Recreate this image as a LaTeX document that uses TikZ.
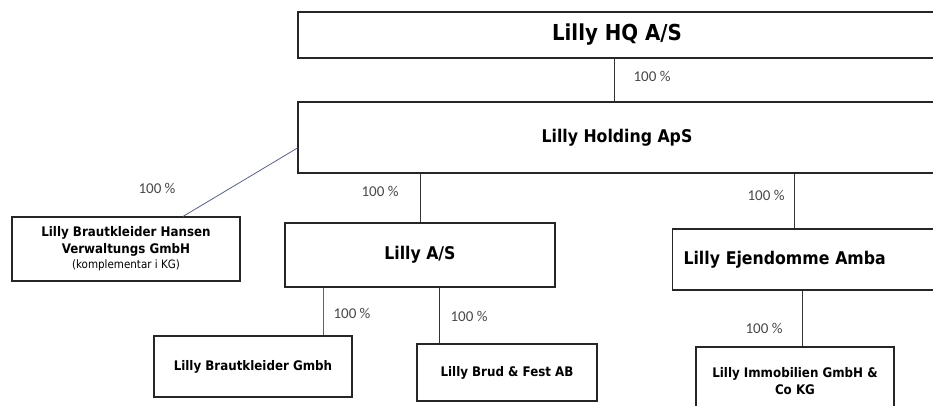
\documentclass[tikz,border=0pt]{standalone}
\usepackage{fontspec}
\setmainfont{DejaVu Sans Condensed}
\newfontfamily\labfont{Carlito}
\definecolor{lineblue}{RGB}{88,98,128}
\begin{document}
\begin{tikzpicture}[x=1pt,y=-1pt,
  box/.style={draw=black!85, line width=1.1pt, rectangle, inner sep=0pt, align=center, font=\bfseries},
  big/.style={font=\fontsize{22}{24}\selectfont\bfseries},
  mid/.style={font=\fontsize{17.5}{20}\selectfont\bfseries},
  small/.style={font=\fontsize{13.2}{17}\selectfont\bfseries},
  pct/.style={font=\labfont\fontsize{15}{16}\selectfont, text=black!72, inner sep=0pt},
  conn/.style={draw=black!80, line width=0.8pt},
  bconn/.style={draw=lineblue, line width=0.8pt}]
\useasboundingbox (0,0) rectangle (933,405);
\clip (0,0) rectangle (933,405);
% boxes
\node[box, big, minimum width=638pt, minimum height=46pt] (hq) at (617,35) {Lilly HQ A/S};
\node[box, mid, minimum width=638pt, minimum height=71pt] (hold) at (617,137.5) {Lilly Holding ApS};
\node[box, small, minimum width=228pt, minimum height=64pt] (hansen) at (126,249)
  {Lilly Brautkleider Hansen\\Verwaltungs GmbH\\[-2pt]{\mdseries\fontsize{11.5}{14}\selectfont(komplementar i KG)}};
\node[box, mid, minimum width=270pt, minimum height=64pt] (as) at (420,255) {Lilly A/S};
\node[box, mid, minimum height=61pt, text width=250pt, align=left, inner xsep=11pt, anchor=west] (ejd) at (672,259.5) {Lilly Ejendomme Amba};
\node[box, small, minimum width=198pt, minimum height=61pt] (brk) at (253,366.5) {Lilly Brautkleider Gmbh};
\node[box, small, minimum width=180pt, minimum height=57pt] (brud) at (507,372.5) {Lilly Brud \& Fest AB};
\node[box, small, minimum width=198pt, minimum height=68pt] (imm) at (795,381) {Lilly Immobilien GmbH \&\\Co KG};
% connector x positions
\coordinate (xe) at (794,0);
\coordinate (xi) at (802,0);
\coordinate (xb) at (323,0);
\coordinate (xf) at (439,0);
% connectors
\draw[conn] ([xshift=-3pt]hq.south) -- ([xshift=-3pt]hold.north);
\draw[bconn] ([yshift=-10.5pt]hold.west) -- ([xshift=57pt]hansen.north);
\draw[conn] (as.north |- hold.south) -- (as.north);
\draw[conn] (hold.south -| xe) -- (ejd.north -| xe);
\draw[conn] (ejd.south -| xi) -- (imm.north -| xi);
\draw[bconn] (as.south -| xb) -- (brk.north -| xb);
\draw[conn] (as.south -| xf) -- (brud.north -| xf);
% labels
\node[pct] (p1) at (652,76) {100 \%};
\node[pct] (p2) at (157,188) {100 \%};
\node[pct] (p3) at (380,191) {100 \%};
\node[pct] (p4) at (766,195) {100 \%};
\node[pct] (p5) at (352,313) {100 \%};
\node[pct] (p6) at (469,316) {100 \%};
\node[pct] (p7) at (764,328) {100 \%};
\end{tikzpicture}
\end{document}
